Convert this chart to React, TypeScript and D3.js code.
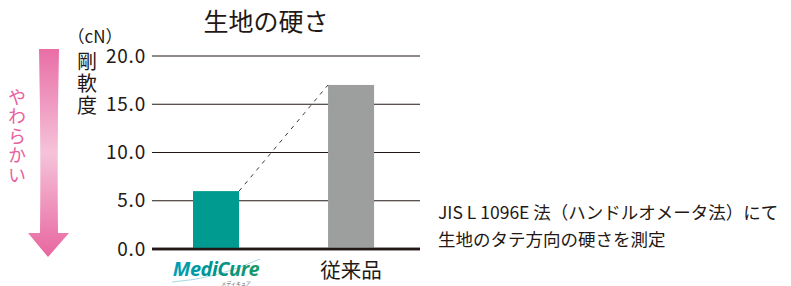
import React from "react";
import * as d3 from "d3";

const categories = ["MediCure", "従来品"];
const values = [6.0, 17.0];
const tickValues = [0, 5, 10, 15, 20];
const tickLabels = ["0.0", "5.0", "10.0", "15.0", "20.0"];
const barColors = ["#009b90", "#9d9f9e"];
const title = "生地の硬さ";
const unitLabel = "（cN）";
const axisLabel = "剛軟度";
const softLabel = "やわらかい";
const logoSub = "メディキュア";
const noteLines = ["JIS L 1096E 法（ハンドルオメータ法）にて", "生地のタテ方向の硬さを測定"];

const W = 791;
const H = 286;
const FONT = "'Noto Sans CJK JP', 'Noto Sans', sans-serif";
const INK = "#231815";

export default function App() {
  const y = d3.scaleLinear().domain([0, 20]).range([249, 56]);
  const x = d3.scaleBand().domain(categories).range([125.5, 441.6]).paddingInner(0.659).paddingOuter(0.5);
  const bw = x.bandwidth();
  const p0: [number, number] = [x(categories[0])! + bw, y(values[0])];
  const p1: [number, number] = [x(categories[1])!, y(values[1])];
  const line = d3.line();
  const c0 = x(categories[0])! + bw / 2;
  const c1 = x(categories[1])! + bw / 2;

  const arrow = "M39,49 L59,49 Q57,140 58,233 L69,233 L48,257 L28,233 L40,233 Q41,140 39,49 Z";
  const vstyle: React.CSSProperties = { writingMode: "vertical-rl" as any, textOrientation: "upright" as any };

  return (
    <div style={{ position: "absolute", left: 0, top: 0 }}>
      <svg width={W} height={H} style={{ display: "block", background: "#fff" }} fontFamily={FONT}>
        <defs>
          <linearGradient id="arrowGrad" x1="0" y1="49" x2="0" y2="257" gradientUnits="userSpaceOnUse">
            <stop offset="0" stopColor="#e96ea6" />
            <stop offset="0.5" stopColor="#f5c3da" />
            <stop offset="1" stopColor="#e8669f" />
          </linearGradient>
          <linearGradient id="logoGrad" x1="0" y1="0" x2="1" y2="0">
            <stop offset="0" stopColor="#00a0b8" />
            <stop offset="0.5" stopColor="#00928a" />
            <stop offset="1" stopColor="#1a9a6a" />
          </linearGradient>
        </defs>

        <text x={266} y={31} textAnchor="middle" fontSize={25} fill={INK}>{title}</text>

        {tickValues.map((t) => (
          <line key={t} x1={152} x2={420} y1={y(t)} y2={y(t)} stroke={INK} strokeWidth={t === 0 ? 2.5 : 1.2} />
        ))}
        {tickValues.map((t, i) => (
          <text key={"l" + t} x={146} y={y(t) + 6.5} textAnchor="end" fontSize={19} letterSpacing={0.8} fill={INK}>{tickLabels[i]}</text>
        ))}

        {categories.map((c, i) => (
          <rect key={c} x={x(c)} y={y(values[i])} width={bw} height={y(0) - y(values[i])} fill={barColors[i]} />
        ))}
        <path d={line([p0, p1])!} stroke="#3e3a39" strokeWidth={1} strokeDasharray="4,5" fill="none" />
        <line x1={152} x2={420} y1={y(0)} y2={y(0)} stroke={INK} strokeWidth={2.5} />

        {/* MediCure logo */}
        <path d={`M${c0 - 44},282 Q${c0},279 ${c0 + 44},259`} stroke="#8fd0e0" strokeWidth={1} fill="none" opacity={0.8} />
        <text x={c0} y={276} textAnchor="middle" fontSize={20} fontStyle="italic" fontWeight="bold" fill="url(#logoGrad)" fontFamily="'Open Sans', sans-serif" letterSpacing={-0.5}>{categories[0]}</text>
        <text x={c0 + 20} y={285} textAnchor="middle" fontSize={5} fill="#555">{logoSub}</text>

        <text x={c1} y={278} textAnchor="middle" fontSize={20.5} fill={INK}>{categories[1]}</text>

        <text x={95} y={43} textAnchor="middle" fontSize={17} fill={INK}>{unitLabel}</text>
        <text x={87} y={51} fontSize={20} letterSpacing={2} fill={INK} style={vstyle}>{axisLabel}</text>

        <path d={arrow} fill="url(#arrowGrad)" />
        <text x={17} y={88} fontSize={18} letterSpacing={1.5} fill="#e8609c" style={vstyle}>{softLabel}</text>

        {noteLines.map((l, i) => (
          <text key={i} x={438} y={219 + i * 27} fontSize={17.5} fill={INK}>{l}</text>
        ))}
      </svg>
    </div>
  );
}
